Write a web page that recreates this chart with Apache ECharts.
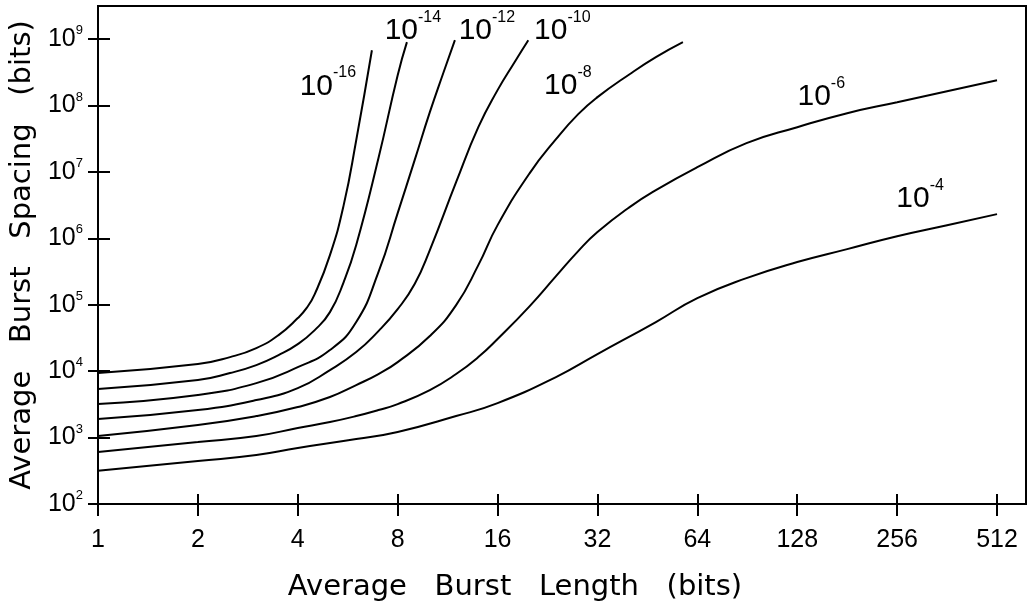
<!DOCTYPE html>
<html><head><meta charset="utf-8">
<script src="https://cdn.jsdelivr.net/npm/echarts@6/dist/echarts.min.js"></script>
<style>html,body{margin:0;padding:0;background:#fff}#c{width:1030px;height:608px}</style>
</head><body><div id="c"></div>
<script>
// ---- data ----
const xTickValues = [1, 2, 4, 8, 16, 32, 64, 128, 256, 512];
const xTickLabels = ['1', '2', '4', '8', '16', '32', '64', '128', '256', '512'];
const yTickValues = [1e2, 1e3, 1e4, 1e5, 1e6, 1e7, 1e8, 1e9];
const yTickExponents = ['2', '3', '4', '5', '6', '7', '8', '9'];
const curveExponents = ['-16', '-14', '-12', '-10', '-8', '-6', '-4'];
// [average burst length, average burst spacing]
const curveE16 = [[1, 9380], [2, 12800], [2.5, 16300], [3, 22300], [3.5, 35000], [4, 63100], [4.25, 89100], [4.5, 145000], [5, 560000], [5.5, 3170000], [6, 30100000], [6.69, 682000000]];
const curveE14 = [[1, 5380], [2, 7360], [2.5, 9380], [3, 12370], [3.5, 17500], [4, 25600], [4.5, 41600], [5, 77600], [5.5, 220000], [6, 793000], [7, 16100000], [8, 287000000], [8.53, 902000000]];
const curveE12 = [[1, 3200], [2, 4375], [3, 6620], [4, 11530], [5, 20800], [6, 55000], [7, 310000], [8, 2400000], [9, 15100000], [10, 79600000], [11, 318000000], [11.9, 966000000]];
const curveE10 = [[1, 1905], [2, 2600], [3, 3680], [4, 5570], [5, 10400], [6, 19400], [7, 40200], [8, 86100], [9, 205000], [10, 667000], [12, 7030000], [14, 47300000], [16, 171000000], [18, 451000000], [19.8, 966000000]];
const curveE8 = [[1, 1057], [2, 1546], [3, 2110], [4, 2884], [5, 4080], [6, 6180], [7, 9060], [8, 13700], [10, 33800], [12, 99000], [14, 396000], [16, 1585000], [20, 9620000], [24, 31200000], [28, 74300000], [32, 134000000], [40, 297000000], [48, 536000000], [57.9, 902000000]];
const curveE6 = [[1, 607], [2, 857], [3, 1057], [4, 1393], [5, 1715], [6, 2110], [7, 2600], [8, 3200], [10, 5200], [12, 9060], [14, 16300], [16, 30500], [20, 95700], [24, 270000], [28, 644000], [32, 1245000], [40, 2960000], [48, 5330000], [64, 11800000], [90, 27200000], [128, 47300000], [181, 76900000], [256, 112500000], [362, 165000000], [512, 241000000]];
const curveE4 = [[1, 316], [2, 444], [3, 547], [4, 697], [6, 950], [8, 1213], [12, 2110], [16, 3310], [24, 8170], [32, 18100], [48, 55000], [64, 126000], [90, 252000], [128, 440000], [181, 690000], [256, 1080000], [362, 1580000], [512, 2320000]];

const curves = [curveE16, curveE14, curveE12, curveE10, curveE8, curveE6, curveE4];
// which point of each curve its label hangs on, and the label's pixel offset
const labelAnchorX = [null, null, null, null, null, 128, 256];
const labelOffsets = [[-44, 36], [6, -11], [32, -9], [34, -9], [-115, 44], [24, -30], [23, -37]];

const numFont = 'Liberation Sans';
const titleFont = 'DejaVu Sans';

function matchIndex(list, v) {
  for (let i = 0; i < list.length; i++) {
    if (Math.abs(Math.log(list[i]) - Math.log(v)) < 1e-6) return i;
  }
  return -1;
}

const supRich = {
  base: { fontSize: 30, lineHeight: 44, fontFamily: numFont, color: '#000', verticalAlign: 'middle' },
  sup: { fontSize: 16, lineHeight: 16, fontFamily: numFont, color: '#000', verticalAlign: 'top' }
};

const series = curves.map((c, i) => {
  let anchor = c[c.length - 1];
  if (labelAnchorX[i] !== null) {
    anchor = c.find(p => p[0] === labelAnchorX[i]);
  }
  return {
    type: 'line',
    data: c,
    symbol: 'none',
    smooth: 0.5,
    silent: true,
    lineStyle: { color: '#000', width: 2 },
    markPoint: {
      symbol: 'circle',
      symbolSize: 1,
      silent: true,
      itemStyle: { color: 'rgba(0,0,0,0)' },
      data: [{
        coord: anchor,
        label: {
          show: true,
          position: 'inside',
          offset: labelOffsets[i],
          formatter: () => '{base|10}{sup|' + curveExponents[i] + '}',
          rich: supRich
        }
      }]
    }
  };
});

const xBase = {
  type: 'log', logBase: 2, min: 1, max: 626, position: 'bottom',
  splitLine: { show: false }, minorTick: { show: false }, minorSplitLine: { show: false }
};
const yBase = {
  type: 'log', logBase: 10, min: 100, max: 3162277660, position: 'left',
  splitLine: { show: false }, minorTick: { show: false }, minorSplitLine: { show: false }
};

const option = {
  animation: false,
  backgroundColor: '#fff',
  grid: { left: 98, right: 4, top: 6, bottom: 104, show: true, borderColor: '#000', borderWidth: 2, outerBoundsMode: 'none', containLabel: false },
  xAxis: [
    Object.assign({}, xBase, {
      axisLine: { show: true, onZero: false, lineStyle: { color: '#000', width: 2 } },
      axisTick: { show: true, inside: false, length: 12, lineStyle: { color: '#000', width: 2 }, customValues: xTickValues },
      axisLabel: {
        show: true, margin: 24, color: '#000', fontSize: 25, fontFamily: numFont,
        customValues: xTickValues,
        formatter: v => { const k = matchIndex(xTickValues, v); return k >= 0 ? xTickLabels[k] : ''; }
      },
      name: 'Average   Burst   Length   (bits)', nameLocation: 'middle', nameGap: 69,
      nameTextStyle: { fontSize: 29, fontFamily: titleFont, color: '#000', padding: [0, 94, 0, 0] }
    }),
    Object.assign({}, xBase, {
      axisLine: { show: false },
      axisTick: { show: true, inside: true, length: 10, lineStyle: { color: '#000', width: 2 }, customValues: xTickValues },
      axisLabel: { show: false }
    })
  ],
  yAxis: [
    Object.assign({}, yBase, {
      axisLine: { show: true, onZero: false, lineStyle: { color: '#000', width: 2 } },
      axisTick: { show: true, inside: false, length: 10, lineStyle: { color: '#000', width: 2 }, customValues: yTickValues },
      axisLabel: {
        show: true, margin: 15, color: '#000', customValues: yTickValues,
        formatter: v => { const k = matchIndex(yTickValues, v); return k >= 0 ? '{base|10}{sup|' + yTickExponents[k] + '}' : ''; },
        rich: {
          base: { fontSize: 25, lineHeight: 30, fontFamily: numFont, color: '#000', verticalAlign: 'middle' },
          sup: { fontSize: 13, lineHeight: 14, fontFamily: numFont, color: '#000', verticalAlign: 'top' }
        }
      },
      name: 'Average   Burst   Spacing   (bits)', nameLocation: 'middle', nameGap: 57,
      nameTextStyle: { fontSize: 29, fontFamily: titleFont, color: '#000' }
    }),
    Object.assign({}, yBase, {
      axisLine: { show: false },
      axisTick: { show: true, inside: true, length: 12, lineStyle: { color: '#000', width: 2 }, customValues: yTickValues },
      axisLabel: { show: false }
    })
  ],
  series: series
};

const chart = echarts.init(document.getElementById('c'), null, { renderer: 'canvas' });
chart.setOption(option);
</script>
</body></html>
